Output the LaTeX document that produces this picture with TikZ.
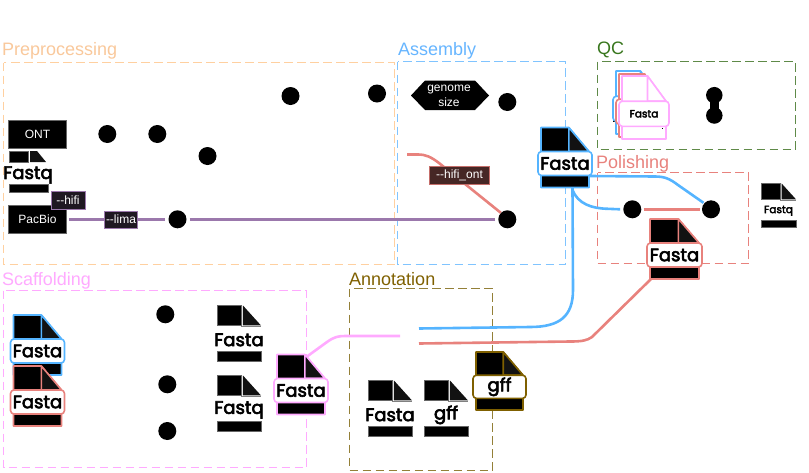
\documentclass[tikz,border=0pt]{standalone}
\usepackage{fontspec}
\setmainfont{Liberation Sans}
\newfontfamily\iconfont[FakeBold=3.5]{Poppins}
\definecolor{cPre}{HTML}{F9C89B}
\definecolor{cPreB}{HTML}{FFD0A0}
\definecolor{cAsm}{HTML}{66B5FF}
\definecolor{cAsmB}{HTML}{80C4FF}
\definecolor{cQc}{HTML}{38761D}
\definecolor{cQcB}{HTML}{5F8A48}
\definecolor{cPol}{HTML}{E8827D}
\definecolor{cSca}{HTML}{FFAAFF}
\definecolor{cAnn}{HTML}{7F6000}
\definecolor{cAnnB}{HTML}{948038}
\definecolor{cLine}{HTML}{9B78AC}
\definecolor{cBlue}{HTML}{55B4FF}
\tikzset{
  x=1pt,y=-1pt,
  dot/.style={circle,fill=black,minimum size=18pt,inner sep=0pt},
  title/.style={anchor=base west,font=\fontsize{18}{18}\selectfont,inner sep=0pt},
  group/.style={dash pattern=on 8.5pt off 4.5pt,line width=1pt},
  blackbox/.style={draw=black!60,fill=black,text=white,font=\fontsize{12}{12}\selectfont,inner sep=0pt,line width=.8pt},
  flag/.style={draw=#1,line width=1pt,text=white,font=\fontsize{12}{12}\selectfont,inner sep=0pt},
  conn/.style={line width=2.6pt},
  filenode/.style={inner sep=0pt,outer sep=0pt},
}
\newcommand{\iconfill}{black}
\newcommand{\foldfill}{black!93}
% #1 name, #2 left, #3 top, #4 width, #5 height, #6 edge colour, #7 text, #8 font size
\newcommand{\edgefile}[8]{%
  \node[filenode,minimum width=#4pt,minimum height=#5pt] (#1) at (#2+#4/2,#3+#5/2) {};
  \begin{scope}[shift={(#2,#3)},line width=1.6pt,draw=#6,line join=round]
    \draw[fill=\iconfill] (0,0) -- (#4*0.58,0) -- (#4,#5*0.40) -- (#4,#5) -- (0,#5) -- cycle;
    \draw[fill=\foldfill] (#4*0.58,0) -- (#4,#5*0.40) -- (#4*0.58,#5*0.40) -- cycle;
    \node[draw=#6,fill=white,rounded corners=3.5pt,line width=1.6pt,minimum width=#4pt+6pt,minimum height=#5pt*0.4,inner sep=0pt,font=\iconfont\fontsize{#8}{#8}\selectfont,text=black]
      at (#4/2,#5*0.6) {#7};
  \end{scope}}
% #1 name, #2 left, #3 top, #4 width, #5 height, #6 text, #7 font size
\newcommand{\plainfile}[7]{%
  \node[filenode,minimum width=#4pt,minimum height=#5pt] (#1) at (#2+#4/2,#3+#5/2) {};
  \begin{scope}[shift={(#2,#3)}]
    \fill[black,draw=black!60,line width=.5pt] (0,0) rectangle (#4*0.54,#5*0.36);
    \fill[black!93] (#4*0.59,0) -- (#4,#5*0.36) -- (#4*0.59,#5*0.36) -- cycle;
    \draw[black!50,line width=.7pt] (#4*0.54,#5*0.375) -- (#4,#5*0.375);
    \fill[black,draw=black!60,line width=.5pt] (0,#5*0.83) rectangle (#4,#5);
    \node[inner sep=0pt,font=\iconfont\fontsize{#7}{#7}\selectfont,text=black] at (#4/2,#5*0.62) {#6};
  \end{scope}}
\begin{document}
\begin{tikzpicture}
\useasboundingbox (0,0) rectangle (809,472);
% groups
\draw[group,cPreB] (3.5,62.5) rectangle (394.5,264.5);
\draw[group,cAsmB] (397.5,61.5) rectangle (565.5,264.5);
\draw[group,cQcB] (597.5,61.5) rectangle (795.5,149.5);
\draw[group,cPol] (597.5,172.5) rectangle (748.5,263.5);
\draw[group,cSca] (3.5,290.5) rectangle (306.5,467.5);
\draw[group,cAnnB] (349.5,288.5) rectangle (492.5,470.5);
\node[title,text=cPre] (tpre) at (2,55) {Preprocessing};
\node[title,text=cAsm] (tasm) at (398,55) {Assembly};
\node[title,text=cQc] (tqc) at (597,54.5) {QC};
\node[title,text=cPol] (tpol) at (596,168) {Polishing};
\node[title,text=cSca] (tsca) at (2,285.5) {Scaffolding};
\node[title,text=cAnn] (tann) at (349,285) {Annotation};
% dots
\node[dot] (d1) at (290.5,96) {};
\node[dot] (d2) at (377,93.5) {};
\node[dot] (d3) at (507.3,102) {};
\node[dot] (d4) at (107.3,134) {};
\node[dot] (d5) at (157.3,134) {};
\node[dot] (d6) at (207.5,156) {};
\node[dot] (lima) at (177.5,219.3) {};
\node[dot] (flye) at (507.3,219.3) {};
\node[dot,minimum size=16.5pt] (qa) at (714.3,95.2) {};
\node[dot,minimum size=16.5pt] (qb) at (714.3,115.5) {};
\node[dot] (p1) at (632.3,209.3) {};
\node[dot] (p2) at (711,209.3) {};
\node[dot] (s1) at (165.3,314.3) {};
\node[dot] (s2) at (167.3,384.3) {};
\node[dot] (s3) at (167.3,431) {};
\draw[line width=9.5pt] (qa.center) -- (qb.center);
% input boxes
\node[blackbox,minimum width=58pt,minimum height=28pt] (ont) at (37.5,134) {ONT};
\node[blackbox,minimum width=58pt,minimum height=28pt] (pacbio) at (37.5,219.3) {PacBio};
\fill[black] (411,95.5) -- (425,80.5) -- (475,80.5) -- (489,95.5) -- (475,110) -- (425,110) -- cycle;
\node[text=white,align=center,font=\fontsize{12}{15}\selectfont,inner sep=0pt] (geno) at (449,95.5) {genome\\size};
% plain files
\fill[black,draw=black!60,line width=.5pt] (9,151) rectangle (28,162);
\fill[black!93] (30,151) -- (37,151) -- (46,162) -- (30,162) -- cycle;
\fill[black,draw=black!60,line width=.5pt] (9,184.5) rectangle (48,192.5);
\node[inner sep=0pt,font=\iconfont\fontsize{18}{18}\selectfont] (fq1) at (28,175) {Fastq};
\plainfile{pa}{217}{305.5}{44}{55.5}{Fasta}{18}
\plainfile{pb}{217}{375.5}{44}{55.5}{Fastq}{18}
\plainfile{pc}{368}{380.5}{44}{55.5}{Fasta}{18}
\plainfile{pd}{424}{380.5}{44}{55.5}{gff}{18}
\plainfile{pe}{761}{183.5}{35}{44}{Fastq}{10.5}
% bordered files
\edgefile{fasm}{541}{127.5}{48}{60}{cBlue}{Fasta}{18}
\edgefile{fpol}{650}{219}{49}{60}{cPol}{Fasta}{18}
\edgefile{fsb}{13.5}{315}{48}{60}{cBlue}{Fasta}{18}
\edgefile{fsr}{13.5}{366}{48}{60}{cPol}{Fasta}{18}
\edgefile{fsp}{277}{354.5}{48}{60}{cSca}{Fasta}{18}
\edgefile{fgff}{476}{352}{47}{58}{cAnn}{gff}{18}
% QC stack
\fill[black] (612.5,106) rectangle (618,122);
\renewcommand{\iconfill}{white}
\renewcommand{\foldfill}{white}
\edgefile{qcb}{616}{71}{42}{63}{cBlue}{}{10}
\edgefile{qcr}{619}{74}{44}{63}{cPol}{}{10}
\edgefile{qcp}{622}{76}{44}{63}{cSca}{Fasta}{10.5}
\fill[black] (661.5,127.5) rectangle (663,129);
% connectors
\coordinate (bluein) at (419,328.5);
\coordinate (redin) at (419,343.5);
\coordinate (pinkin) at (400,336);
\coordinate (hifistart) at (407,154.5);
\draw[conn,cLine] (pacbio.east) ++(2,0) -- ([xshift=-3pt]lima.west);
\draw[conn,cLine] ([xshift=3pt]lima.east) -- ([xshift=-3pt]flye.west);
\draw[conn,cPol] (hifistart) -- (418,154.5) .. controls (426,154.5) and (431,157) .. (439,163) -- (flye.north west);
\draw[conn,cBlue] (572.5,188) -- (573,290) .. controls (573,316) and (560,327) .. (530,327) -- (bluein);
\draw[conn,cBlue] (572.5,190) .. controls (578,204) and (592,208.5) .. (608,208.8) -- ([xshift=-3pt]p1.west);
\draw[conn,cBlue] (590,176) -- (655,176.5) .. controls (665,176.5) and (670,179) .. (678,185) -- ([xshift=-1pt]p2.north west);
\draw[conn,cPol] ([xshift=2pt]p1.east) -- ([xshift=-2pt]p2.west);
\draw[conn,cPol] (fpol.south west) ++(1,0) -- (592,337) .. controls (587,340.5) and (582,341.5) .. (570,341.5) -- (redin);
\draw[conn,cSca] (fsp.north east) ++(-18,2) -- (327,342) .. controls (334,337) and (338,336) .. (345,336) -- (pinkin);
% flags
\node[flag=cLine,fill=black!80!cLine,minimum width=34pt,minimum height=18pt] (hifi) at (68,200.5) {-{}-hifi};
\node[flag=cLine,fill=black!80!cLine,minimum width=33pt,minimum height=17pt] (limaf) at (121,219.5) {-{}-lima};
\node[flag=cPol!85!black,fill=black!70!cPol,minimum width=60pt,minimum height=18pt] (hont) at (459.5,175.3) {-{}-hifi\_ont};
\end{tikzpicture}
\end{document}
